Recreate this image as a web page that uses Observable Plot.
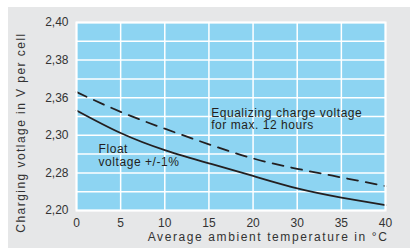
<!DOCTYPE html>
<html>
<head>
<meta charset="utf-8">
<script src="https://cdn.jsdelivr.net/npm/d3@7"></script>
<script src="https://cdn.jsdelivr.net/npm/@observablehq/plot@0.6"></script>
<style>
  html, body { margin: 0; padding: 0; background: #ffffff; }
  #panel { position: absolute; left: 8px; top: 7px; width: 402px; height: 241px; background: #e6e7e8; }
  #panel svg { display: block; }
</style>
</head>
<body>
<div id="panel"></div>
<script>
// Grid positions (the printed axis labels are irregular, so values are read in grid units)
const xTicks = [0, 1, 2, 3, 4, 5, 6, 7];
const xTickLabels = ["0", "5", "10", "15", "20", "30", "35", "40"];
const yGrid = [0, 1, 2, 3, 4, 5, 6, 7, 8, 9, 10];
const yTicks = [0, 2, 4, 6, 8, 10];
const yTickLabels = ["2,20", "2,28", "2,30", "2,36", "2,38", "2,40"];

// Series (y in grid units, one per x grid line)
const floatVoltage = [5.32, 4.12, 3.21, 2.51, 1.84, 1.18, 0.69, 0.28];
const equalizingVoltage = [6.30, 5.25, 4.35, 3.52, 2.77, 2.22, 1.76, 1.30];

// Annotations
const annoText = ["Equalizing charge voltage\nfor max. 12 hours", "Float\nvoltage +/-1%"];
const annoX = [3.05, 0.5];
const annoY = [4.87, 2.93];

const xTitle = "Average ambient temperature in °C";
const yTitle = "Charging votlage in V per cell";

const floatData = xTicks.map((x, i) => ({x, y: floatVoltage[i]}));
const eqData = xTicks.map((x, i) => ({x, y: equalizingVoltage[i]}));
const annoData = annoText.map((t, i) => ({t, x: annoX[i], y: annoY[i]}));

const ink = "#231f20";
const blue = "#8dd4f2";

const chart = Plot.plot({
  width: 402,
  height: 241,
  marginLeft: 68,
  marginRight: 25,
  marginTop: 15,
  marginBottom: 38,
  style: {background: "transparent", fontFamily: "'Liberation Sans', Arial, sans-serif", fontSize: "12px", color: "#333"},
  x: {domain: [0, 7]},
  y: {domain: [0, 10]},
  marks: [
    Plot.frame({fill: blue}),
    Plot.gridX(xTicks, {stroke: "white", strokeOpacity: 1, strokeWidth: 1.5}),
    Plot.gridY(yGrid, {stroke: "white", strokeOpacity: 1, strokeWidth: 1.5}),
    Plot.line(floatData, {x: "x", y: "y", curve: "natural", stroke: ink, strokeWidth: 1.8}),
    Plot.line(eqData, {x: "x", y: "y", curve: "natural", stroke: ink, strokeWidth: 1.8, strokeDasharray: "11,8"}),
    Plot.frame({stroke: "white", strokeWidth: 2}),
    Plot.axisX(xTicks, {tickSize: 0, tickPadding: 8, tickFormat: i => xTickLabels[i], label: null, fill: "#333"}),
    Plot.axisY(yTicks, {tickSize: 0, tickPadding: 8, tickFormat: v => yTickLabels[yTicks.indexOf(v)], label: null, fill: "#333"}),
    Plot.text(annoData, {x: "x", y: "y", text: "t", textAnchor: "start", lineAnchor: "middle", lineHeight: 1.05, fill: ink, fontSize: 12}),
    Plot.text([xTitle], {frameAnchor: "bottom-right", textAnchor: "end", lineAnchor: "middle", dx: 3, dy: 27, fill: "#333", fontSize: 12}),
    Plot.text([yTitle], {frameAnchor: "left", rotate: -90, textAnchor: "middle", lineAnchor: "middle", dx: -55, dy: 16, fill: "#333", fontSize: 12})
  ]
});

d3.select(chart).selectAll("text").each(function() {
  const t = d3.select(this).text();
  if (t === xTitle) d3.select(this).style("letter-spacing", "1.6px");
  if (t === yTitle) d3.select(this).style("letter-spacing", "1.45px");
  if (t.startsWith("Equalizing") || t.startsWith("Float")) d3.select(this).style("letter-spacing", "0.55px");
});

document.getElementById("panel").appendChild(chart);
</script>
</body>
</html>
